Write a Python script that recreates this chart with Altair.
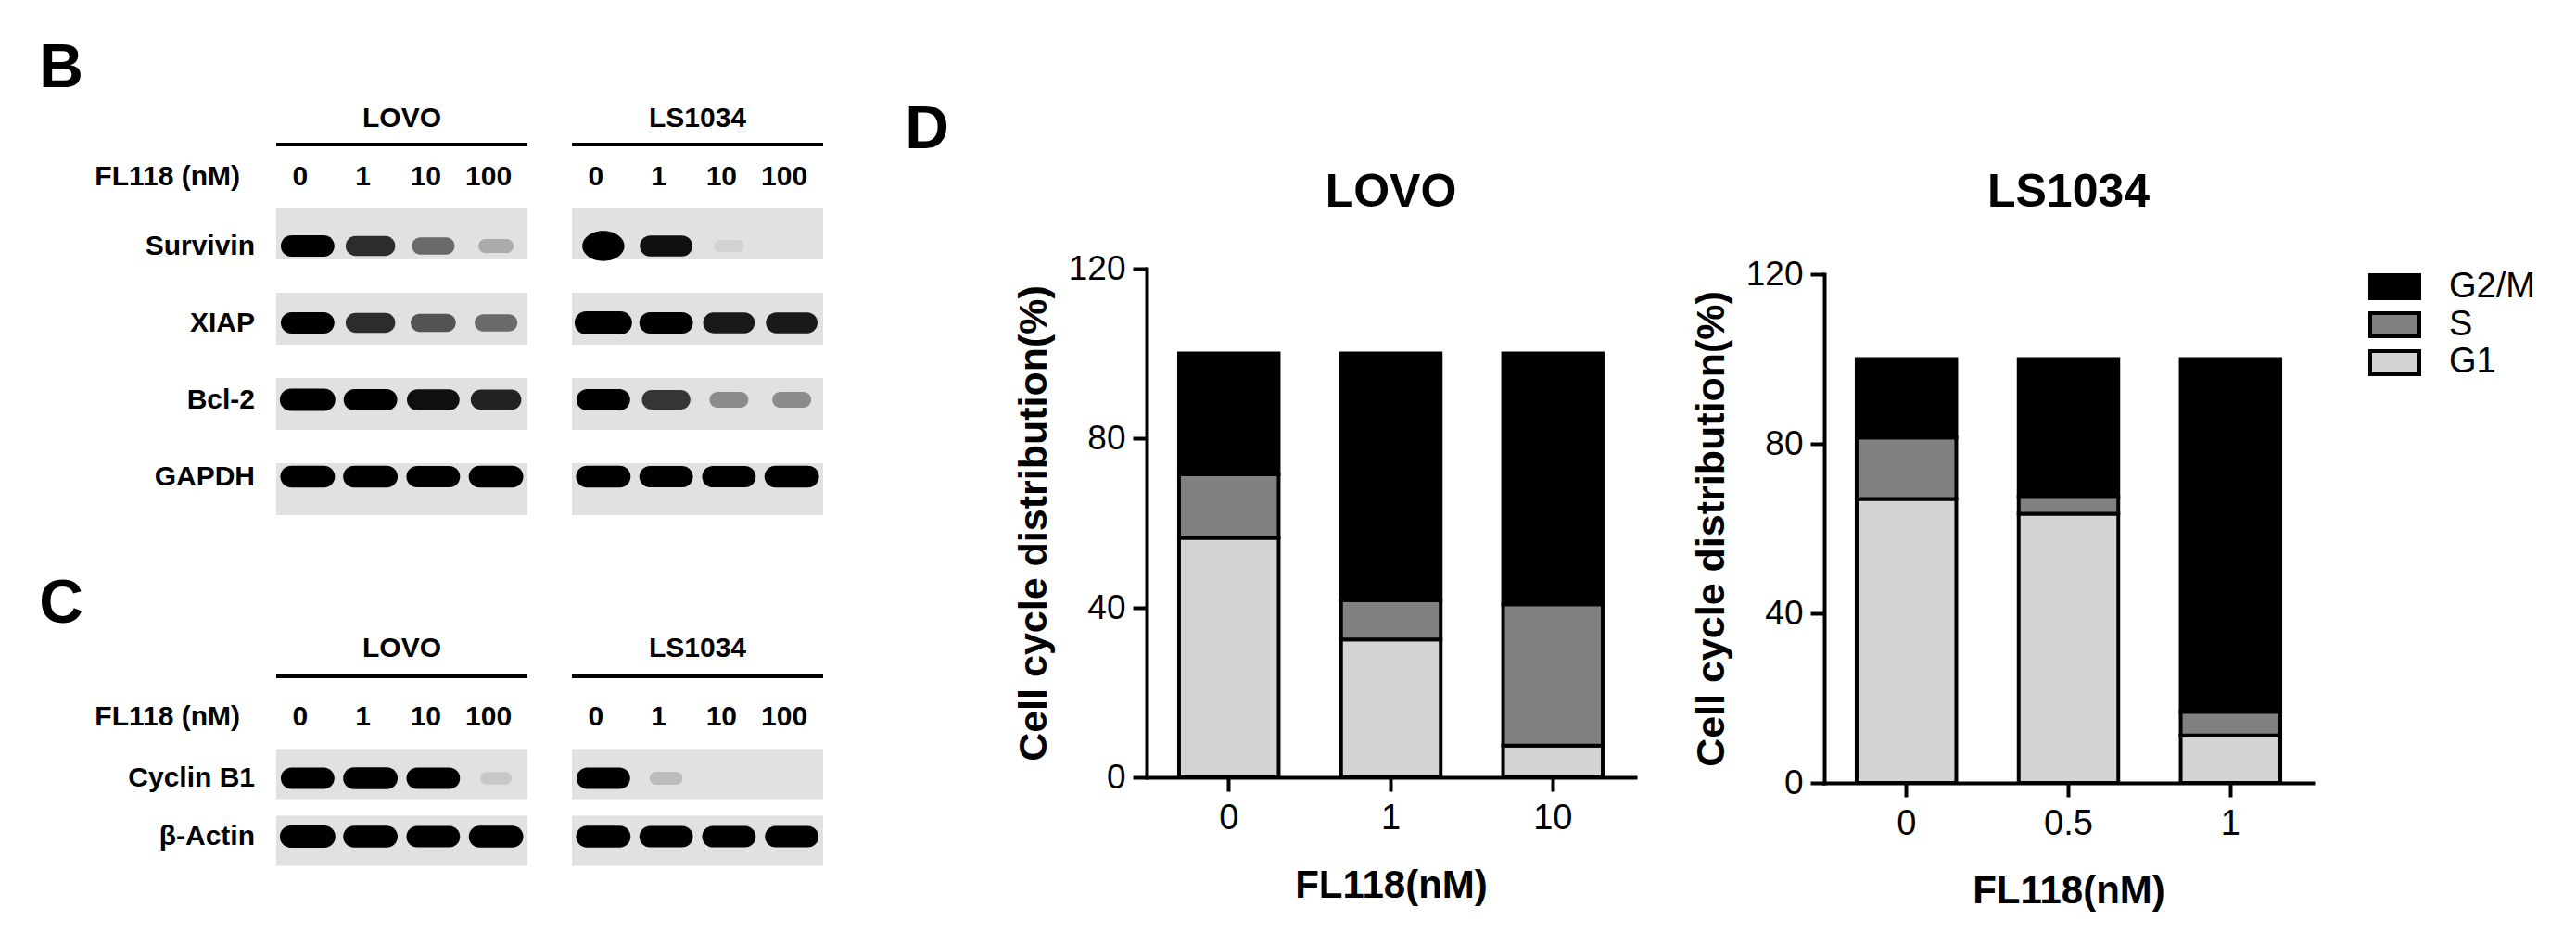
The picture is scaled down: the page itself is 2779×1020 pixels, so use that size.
import altair as alt
import pandas as pd

FONT = "Liberation Sans, Arial, sans-serif"
NARROW = "Liberation Sans Narrow, Arial Narrow, Liberation Sans, sans-serif"

# ---------------- data ----------------
lanes = ["0", "1", "10", "100"]
proteins_b = ["Survivin", "XIAP", "Bcl-2", "GAPDH"]
proteins_c = ["Cyclin B1", "β-Actin"]

# western blot band intensities (0 = no band, 1 = saturated)
survivin_lovo = [1.0, 0.8, 0.5, 0.22]
survivin_ls = [1.35, 0.95, 0.06, 0.0]
xiap_lovo = [1.0, 0.8, 0.6, 0.5]
xiap_ls = [1.2, 1.0, 0.9, 0.9]
bcl2_lovo = [1.1, 1.0, 0.95, 0.85]
bcl2_ls = [1.0, 0.75, 0.35, 0.35]
gapdh_lovo = [1.05, 1.05, 1.0, 1.05]
gapdh_ls = [1.05, 1.0, 1.0, 1.05]
cyclinb1_lovo = [1.0, 1.05, 1.0, 0.1]
cyclinb1_ls = [1.0, 0.15, 0.0, 0.0]
actin_lovo = [1.1, 1.05, 1.0, 1.05]
actin_ls = [1.05, 1.0, 1.0, 1.0]

# cell cycle distribution (%)
legend_order = ["G2/M", "S", "G1"]
phase_colors = ["#000000", "#808080", "#d4d4d4"]
lovo_doses = ["0", "1", "10"]
lovo_g1 = [56.5, 32.5, 7.5]
lovo_s = [15.0, 9.3, 33.3]
lovo_g2m = [28.5, 58.2, 59.2]
ls_doses = ["0", "0.5", "1"]
ls_g1 = [67.0, 63.5, 11.2]
ls_s = [14.5, 4.0, 5.6]
ls_g2m = [18.5, 32.5, 83.2]

# ---------------- helpers ----------------
STADIUM = ("M -0.6 -0.4 L 0.6 -0.4 C 0.82 -0.4 1 -0.22 1 0 C 1 0.22 0.82 0.4 0.6 0.4 "
           "L -0.6 0.4 C -0.82 0.4 -1 0.22 -1 0 C -1 -0.22 -0.82 -0.4 -0.6 -0.4 Z")
BLOB = ("M -0.7 0 C -0.7 -0.276 -0.387 -0.5 0 -0.5 C 0.387 -0.5 0.7 -0.276 0.7 0 "
        "C 0.7 0.276 0.387 0.5 0 0.5 C -0.387 0.5 -0.7 0.276 -0.7 0 Z")
BLOT_W = 271
LBL = 30  # blot text size

xs = alt.Scale(domain=lanes, paddingInner=0, paddingOuter=0.33)
band_color = alt.Scale(domain=[0, 1], range=["#e1e1e1", "#000000"], clamp=True)
band_size = alt.Scale(domain=[0, 1.35], range=[900, 4200])
band_shape = alt.Scale(domain=["band", "blob"], range=[STADIUM, BLOB])


def blot_section(cell, proteins, values, y_range, pad_inner, hdr_y, line_y, lane_y,
                 first, letter, letter_y):
    ys = alt.Scale(domain=proteins, range=y_range, paddingInner=pad_inner, paddingOuter=0)
    y_enc = alt.Y("protein:N", scale=ys, sort=proteins, axis=None)
    pdf = pd.DataFrame({"protein": proteins})

    membrane = alt.Chart(pdf).mark_rect(color="#e1e1e1").encode(
        y=y_enc, x=alt.value(0), x2=alt.value(BLOT_W))

    rows = []
    for p, vals in zip(proteins, values):
        for lane, v in zip(lanes, vals):
            rows.append({"protein": p, "lane": lane, "intensity": v})
    bands = alt.Chart(pd.DataFrame(rows)).transform_calculate(
        form="datum.intensity > 1.3 ? 'blob' : 'band'"
    ).mark_point(filled=True, opacity=1, strokeWidth=0).encode(
        x=alt.X("lane:N", scale=xs, sort=lanes, axis=None),
        y=y_enc,
        color=alt.Color("intensity:Q", legend=None, scale=band_color),
        size=alt.Size("intensity:Q", legend=None, scale=band_size),
        shape=alt.Shape("form:N", legend=None, scale=band_shape),
    )

    lane_txt = alt.Chart(pd.DataFrame({"lane": lanes})).mark_text(
        font=NARROW, fontSize=LBL, fontWeight="bold", dx=-8, baseline="middle").encode(
        x=alt.X("lane:N", scale=xs, sort=lanes, axis=None),
        y=alt.value(lane_y), text="lane:N")

    hdr = alt.Chart(pd.DataFrame({"cell": [cell]})).mark_text(
        font=NARROW, fontSize=LBL, fontWeight="bold", baseline="middle").encode(
        x=alt.value(BLOT_W / 2), y=alt.value(hdr_y), text="cell:N")

    uline = alt.Chart(pd.DataFrame({"cell": [cell]})).mark_rule(
        color="black", strokeWidth=4).encode(
        x=alt.value(0), x2=alt.value(BLOT_W), y=alt.value(line_y))

    layers = [membrane, bands, lane_txt, hdr, uline]
    if first:
        names = alt.Chart(pdf).mark_text(
            font=NARROW, fontSize=LBL, fontWeight="bold", align="right",
            baseline="middle").encode(y=y_enc, x=alt.value(-23), text="protein:N")
        fl = alt.Chart(pd.DataFrame({"t": ["FL118 (nM)"]})).mark_text(
            font=NARROW, fontSize=LBL, fontWeight="bold", align="right",
            baseline="middle").encode(x=alt.value(-39), y=alt.value(lane_y), text="t:N")
        lt = alt.Chart(pd.DataFrame({"t": [letter]})).mark_text(
            font=NARROW, fontSize=66, fontWeight="bold", baseline="middle").encode(
            x=alt.value(-232), y=alt.value(letter_y), text="t:N")
        layers += [names, fl, lt]
    return layers


def blot_cell(cell, b_values, c_values, first=False):
    layers = (blot_section(cell, proteins_b, b_values, [0, 332], 0.391, -96, -68, -33,
                           first, "B", -150)
              + blot_section(cell, proteins_c, c_values, [584.5, 710.5], 0.25, 476, 506, 550,
                             first, "C", 428))
    return alt.layer(*layers).resolve_scale(y="independent").properties(
        width=BLOT_W, height=710.5)


phase_scale = alt.Scale(domain=legend_order, range=phase_colors)


def cycle_cell(name, doses, g1, s, g2m, x0, y_top, y_bottom, letter=False):
    W = x0 + 527
    df = pd.DataFrame({
        "dose": doses * 3,
        "phase": ["G1"] * 3 + ["S"] * 3 + ["G2/M"] * 3,
        "value": g1 + s + g2m,
        "k": [0] * 3 + [1] * 3 + [2] * 3,
    })
    bars = alt.Chart(df).mark_bar(stroke="black", strokeWidth=4).encode(
        x=alt.X("dose:N", sort=doses,
                scale=alt.Scale(range=[x0, W], paddingInner=0.385, paddingOuter=0.2),
                axis=alt.Axis(title="FL118(nM)", labelAngle=0, labelFont=FONT,
                              labelFontSize=38, labelColor="black", labelPadding=10,
                              tickSize=15, tickWidth=4, tickColor="black",
                              domainWidth=4, domainColor="black", domainCap="square",
                              titleFont=FONT, titleFontSize=42, titleFontWeight="bold",
                              titleColor="black", titlePadding=33)),
        y=alt.Y("value:Q", stack="zero",
                scale=alt.Scale(domain=[0, 120], range=[y_bottom, y_top], nice=False),
                axis=alt.Axis(values=[0, 40, 80, 120], grid=False, offset=-x0,
                              title="Cell cycle distribution(%)",
                              labelFont=FONT, labelFontSize=37, labelColor="black",
                              labelPadding=8, tickSize=15, tickWidth=4, tickColor="black",
                              domainWidth=4, domainColor="black", domainCap="square",
                              titleFont=FONT, titleFontSize=43, titleFontWeight="bold",
                              titleColor="black", titlePadding=15)),
        color=alt.Color("phase:N", scale=phase_scale, legend=None),
        order=alt.Order("k:Q", sort="ascending"),
    )
    ttl = alt.Chart(pd.DataFrame({"t": [name]})).mark_text(
        font=FONT, fontSize=50, fontWeight="bold", baseline="alphabetic", color="black").encode(
        x=alt.value(x0 + 527 / 2), y=alt.value(-1), text="t:N")
    layers = [bars, ttl]
    if letter:
        lt = alt.Chart(pd.DataFrame({"t": ["D"]})).mark_text(
            font=NARROW, fontSize=66, fontWeight="bold", baseline="middle").encode(
            x=alt.value(64), y=alt.value(-84), text="t:N")
        layers.append(lt)
    return alt.layer(*layers).properties(width=W, height=y_bottom)


# legend (drawn from the phase list)
leg_df = pd.DataFrame({"phase": legend_order})
leg_y = alt.Scale(domain=legend_order, range=[73, 180], paddingInner=0.39, paddingOuter=0)
swatch = alt.Chart(leg_df).mark_rect(stroke="black", strokeWidth=4).encode(
    y=alt.Y("phase:N", scale=leg_y, sort=legend_order, axis=None),
    x=alt.value(14), x2=alt.value(67),
    color=alt.Color("phase:N", scale=phase_scale, legend=None))
leg_txt = alt.Chart(leg_df).mark_text(align="left", baseline="middle", font=FONT,
                                      fontSize=38, color="black").encode(
    y=alt.Y("phase:N", scale=leg_y, sort=legend_order, axis=None),
    x=alt.value(99), text="phase:N")
legend = alt.layer(swatch, leg_txt).properties(width=69, height=200)

# ---------------- assemble ----------------
blot_lovo = blot_cell("LOVO", [survivin_lovo, xiap_lovo, bcl2_lovo, gapdh_lovo],
                      [cyclinb1_lovo, actin_lovo], first=True)
blot_ls = blot_cell("LS1034", [survivin_ls, xiap_ls, bcl2_ls, gapdh_ls],
                    [cyclinb1_ls, actin_ls])
lovo = cycle_cell("LOVO", lovo_doses, lovo_g1, lovo_s, lovo_g2m, 301, 66, 615, letter=True)
ls = cycle_cell("LS1034", ls_doses, ls_g1, ls_s, ls_g2m, 156, 72, 621)

chart = alt.hconcat(blot_lovo, blot_ls, lovo, ls, legend, spacing=48, bounds="flush").properties(
    padding={"left": 34, "top": 33, "right": 5, "bottom": 5}
).configure(font=FONT, background="white").configure_view(stroke=None)

chart.save("out.html", embed_options={"renderer": "svg", "actions": False})
